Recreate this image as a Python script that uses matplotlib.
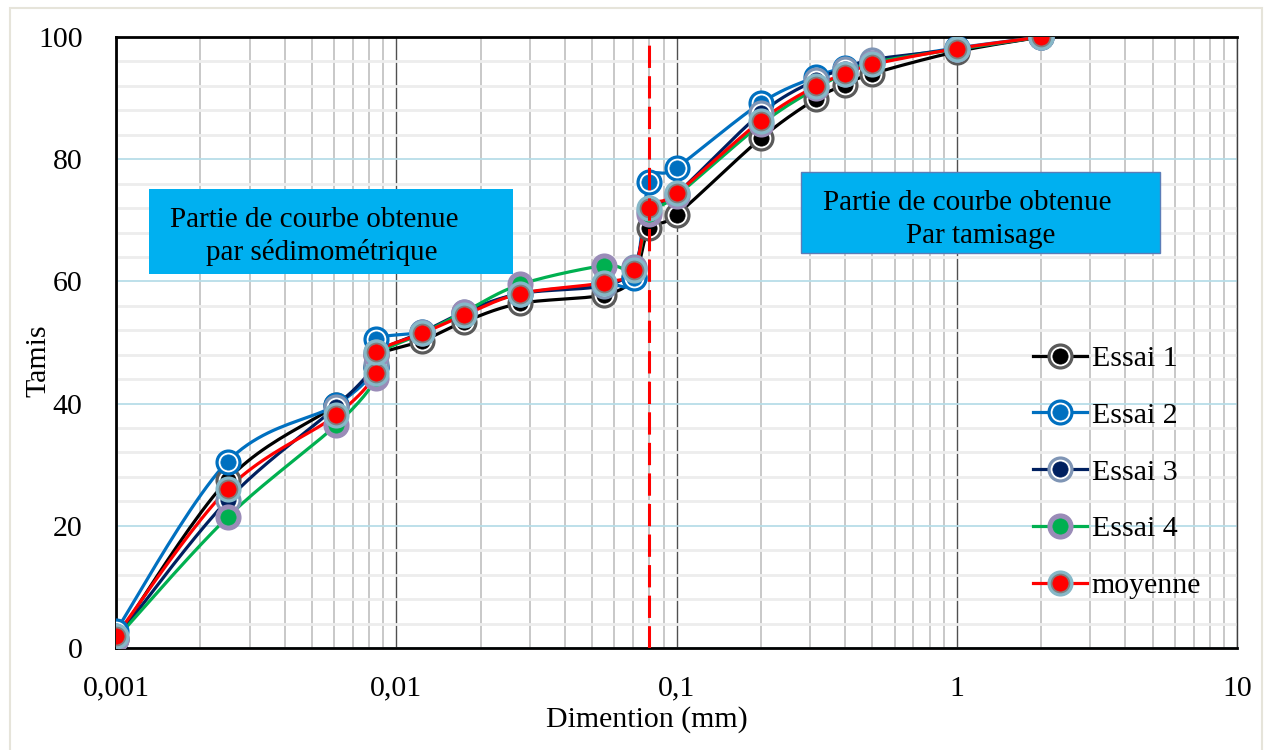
import matplotlib
matplotlib.use("Agg")
import matplotlib.pyplot as plt
from matplotlib.patches import Rectangle
from matplotlib.ticker import FixedLocator, LogLocator, FuncFormatter, MultipleLocator
import numpy as np

plt.rcParams['font.family'] = ['Liberation Serif', 'DejaVu Serif']

# --------------------------
# Data
# --------------------------
dim = [0.001, 0.0025, 0.0061, 0.0085, 0.0085, 0.0124, 0.0175, 0.0277, 0.055,
       0.0705, 0.08, 0.1, 0.2, 0.315, 0.4, 0.5, 1, 2]

essai1 = [1.5, 27.5, 39.8, 46.0, 48.0, 50.3, 53.4, 56.4, 57.8,
          60.8, 68.7, 70.9, 83.4, 89.9, 92.2, 94.0, 97.6, 100]
essai2 = [2.8, 30.5, 39.8, 46.0, 50.5, 51.8, 54.8, 58.0, 59.5,
          60.5, 76.3, 78.6, 89.2, 93.5, 95.0, 96.0, 98.2, 100]
essai3 = [1.5, 24.2, 39.5, 46.5, 48.5, 51.7, 55.0, 58.0, 59.3,
          62.4, 71.5, 74.3, 87.5, 93.0, 94.8, 96.3, 98.0, 100]
essai4 = [1.5, 21.4, 36.5, 44.2, 48.0, 51.5, 55.0, 59.5, 62.6,
          62.2, 71.0, 74.0, 85.7, 91.6, 94.0, 95.8, 98.0, 100]
moyenne = [2.0, 26.0, 38.1, 45.0, 48.5, 51.5, 54.5, 58.0, 59.8,
           61.9, 72.0, 74.4, 86.3, 92.0, 93.9, 95.5, 98.1, 100]

limite = 0.08

W, H = 1265, 750


def smooth(xs, ys, n=24):
    # excel-like smoothed line (bezier through points, in screen-ish space)
    u = np.log10(np.asarray(xs, float)) * 280.0
    v = np.asarray(ys, float) * 6.11
    P = np.column_stack([u, v])
    P = np.vstack([P[0], P, P[-1]])
    t = np.linspace(0, 1, n)[:, None]
    out = []
    for i in range(1, len(P) - 2):
        p0, p1, p2, p3 = P[i - 1], P[i], P[i + 1], P[i + 2]
        c1 = p1 + (p2 - p0) / 6.0
        c2 = p2 - (p3 - p1) / 6.0
        seg = ((1 - t) ** 3) * p1 + 3 * ((1 - t) ** 2) * t * c1 + 3 * (1 - t) * t ** 2 * c2 + t ** 3 * p2
        out.append(seg if i == 1 else seg[1:])
    out = np.vstack(out)
    return 10 ** (out[:, 0] / 280.0), out[:, 1] / 6.11


fig = plt.figure(figsize=(W / 100, H / 100), dpi=100)
ax = fig.add_axes([116 / W, 1 - 648 / H, (1237 - 116) / W, (648 - 37) / H])

ax.set_xscale('log')
ax.set_xlim(0.001, 10)
ax.set_ylim(0, 100)

# grid
ax.yaxis.set_major_locator(MultipleLocator(20))
ax.yaxis.set_minor_locator(MultipleLocator(4))
ax.xaxis.set_major_locator(FixedLocator([0.001, 0.01, 0.1, 1, 10]))
ax.xaxis.set_minor_locator(LogLocator(base=10, subs=np.arange(2, 10)))
ax.grid(True, which='major', axis='y', color='#B7DDE8', lw=1.3)
ax.grid(True, which='minor', axis='y', color='#EDEDED', lw=2)
ax.grid(True, which='major', axis='x', color='#505050', lw=1.0)
ax.grid(True, which='minor', axis='x', color='#C8C8C8', lw=1.4)
ax.set_axisbelow(True)

ax.tick_params(which='both', length=0)
ax.tick_params(axis='y', pad=24, labelsize=21.5)
ax.tick_params(axis='x', pad=20, labelsize=21.5)
ax.xaxis.set_major_formatter(FuncFormatter(lambda v, p: ('%g' % v).replace('.', ',')))

for s in ['left', 'bottom', 'top']:
    ax.spines[s].set_linewidth(2)
    ax.spines[s].set_color('black')
ax.spines['right'].set_linewidth(1)
ax.spines['right'].set_color('#404040')

# --------------------------
# Series
# --------------------------
styles = [
    ('Essai 1', essai1, 'black', 'white', '#5A5A5A', 'black'),
    ('Essai 2', essai2, '#0070C0', 'white', '#0070C0', '#0070C0'),
    ('Essai 3', essai3, '#002060', 'white', '#7F95B5', '#002060'),
    ('Essai 4', essai4, '#00B050', '#9A8CB8', '#9A8CB8', '#00B050'),
    ('moyenne', moyenne, 'red', '#7F7F7F', '#86B8C8', 'red'),
]

handles = []
for name, vals, lc, ring, outer, core in styles:
    sx, sy = smooth(dim, vals)
    ax.plot(sx, sy, color=lc, lw=2.3, zorder=3, solid_capstyle='round')
    m1, = ax.plot(dim, vals, ls='none', marker='o', ms=16.5, mfc=ring, mec=outer, mew=2.3, zorder=4)
    m2, = ax.plot(dim, vals, ls='none', marker='o', ms=11, mfc=core, mec=core, mew=0.5, zorder=4)
    lg, = ax.plot([], [], color=lc, lw=2.3)
    handles.append(((lg, m1, m2), name))

ax.axvline(limite, color='red', lw=2.2, ls=(0, (7.3, 2.7)), zorder=5)

ax.legend([h for h, _ in handles], [n for _, n in handles],
          loc='upper left', bbox_to_anchor=(0.805, 0.52), frameon=False,
          fontsize=21.5, handlelength=1.8, handletextpad=0.15, labelspacing=1.0,
          borderpad=0)

# --------------------------
# Annotation boxes
# --------------------------
def fx(px):
    return px / W


def fy(py):
    return 1 - py / H


box1 = Rectangle((fx(149), fy(274)), fx(513) - fx(149), fy(189) - fy(274),
                 transform=fig.transFigure, facecolor='#00B0F0', edgecolor='none', zorder=6)
fig.patches.append(box1)
fig.text(fx(314), fy(227), 'Partie de courbe obtenue', ha='center', va='baseline',
         fontsize=21, zorder=7)
fig.text(fx(322), fy(260), 'par sédimométrique', ha='center', va='baseline',
         fontsize=21, zorder=7)

box2 = Rectangle((fx(801), fy(253)), fx(1160) - fx(801), fy(172) - fy(253),
                 transform=fig.transFigure, facecolor='#00B0F0', edgecolor='#5B7DB8',
                 lw=1, zorder=6)
fig.patches.append(box2)
fig.text(fx(967), fy(210), 'Partie de courbe obtenue', ha='center', va='baseline',
         fontsize=21, zorder=7)
t2 = fig.text(fx(981), fy(243), 'Par tamisage', ha='center', va='baseline',
              fontsize=21, zorder=7)
t2.set_clip_path(box2)

# labels
fig.text(fx(647), fy(720), 'Dimention (mm)', ha='center', va='center', fontsize=21.5)
fig.text(fx(38), fy(361), 'Tamis', ha='center', va='center', rotation=90, fontsize=21.5)

# outer chart border
fig.patches.append(Rectangle((fx(10), fy(752)), fx(1262) - fx(10), fy(8) - fy(752),
                             transform=fig.transFigure, facecolor='none',
                             edgecolor='#E6E4DA', lw=1.5))

fig.savefig('out.png', dpi=100)
